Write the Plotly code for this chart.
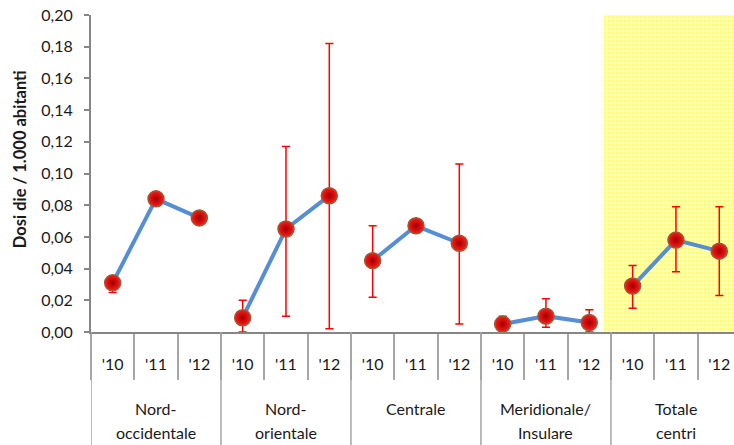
import plotly.graph_objects as go

# Consumption by area and year (doses per day / 1,000 inhabitants)
groups = ["Nord-occidentale", "Nord-orientale", "Centrale", "Meridionale/Insulare", "Totale centri"]
group_lines = [["Nord-", "occidentale"], ["Nord-", "orientale"], ["Centrale"],
               ["Meridionale/", "Insulare"], ["Totale", "centri"]]
years = ["'10", "'11", "'12"]

values = [0.031, 0.084, 0.072,
          0.009, 0.065, 0.086,
          0.045, 0.067, 0.056,
          0.005, 0.010, 0.006,
          0.029, 0.058, 0.051]
upper = [0.035, 0.086, 0.075,
         0.020, 0.117, 0.182,
         0.067, 0.069, 0.106,
         0.010, 0.021, 0.014,
         0.042, 0.079, 0.079]
lower = [0.025, 0.082, 0.069,
         0.000, 0.010, 0.002,
         0.022, 0.065, 0.005,
         0.000, 0.003, 0.000,
         0.015, 0.038, 0.023]

n_years = len(years)
x_pos = list(range(len(values)))
tick_text = years * len(groups)

# line broken between groups
line_x, line_y = [], []
for g in range(len(groups)):
    for k in range(n_years):
        i = g * n_years + k
        line_x.append(i)
        line_y.append(values[i])
    line_x.append(None)
    line_y.append(None)

fig = go.Figure()

# highlighted band behind the overall totals
fig.add_trace(go.Bar(
    x=[12.95], y=[0.2], width=[3.2],
    marker=dict(color="#FFFFD0", line=dict(width=0),
                pattern=dict(shape="+", fgcolor="#FFFF20", bgcolor="#FFFFD0",
                             fgopacity=1, size=4, solidity=0.3)),
    hoverinfo="skip", showlegend=False,
))

fig.add_trace(go.Scatter(
    x=line_x, y=line_y, mode="lines",
    line=dict(color="#558ED5", width=4),
    hoverinfo="skip", showlegend=False, connectgaps=False,
))

fig.add_trace(go.Scatter(
    x=x_pos, y=values, mode="markers",
    marker=dict(size=16, color="#FF1A1A",
                gradient=dict(type="radial", color="#A00000"),
                line=dict(color="#9C5A33", width=1.5)),
    error_y=dict(type="data", symmetric=False,
                 array=[u - v for u, v in zip(upper, values)],
                 arrayminus=[v - l for v, l in zip(values, lower)],
                 color="#FF0000", thickness=1.5, width=4),
    showlegend=False,
))

grid_col = "#A6A6A6"
axis_col = "#868686"
font_fam = "Lato"
txt_col = "#1A1A1A"

# group dividers reaching the bottom of the label area
for b in [-0.5, 2.5, 5.5, 8.5, 11.5, 14.5]:
    fig.add_shape(type="line", xref="x", yref="paper", x0=b, x1=b, y0=0, y1=-0.357,
                  line=dict(color=grid_col, width=1.5))

# group names under the years
for g, lines in enumerate(group_lines):
    cx = g * n_years + 1
    for j, txt in enumerate(lines):
        fig.add_annotation(x=cx, xref="x", y=-(409 - 332 + j * 23.5) / 317.3, yref="paper",
                           text=txt, showarrow=False, yanchor="middle",
                           font=dict(family=font_fam, size=16, color=txt_col))

# vertical axis title
fig.add_annotation(x=(20 - 91) / 643, xref="paper", y=(332 - 159) / 317.3, yref="paper",
                   text="<b>Dosi die / 1.000 abitanti</b>", textangle=-90,
                   showarrow=False, xanchor="center", yanchor="middle",
                   font=dict(family=font_fam, size=16.5, color=txt_col))

fig.update_layout(
    width=734, height=445,
    margin=dict(l=91, r=0, t=15, b=113),
    plot_bgcolor="white", paper_bgcolor="white",
    separators=", ",
    bargap=0,
    font=dict(family=font_fam, size=16, color=txt_col),
    xaxis=dict(
        range=[-0.5, 14.34], tickmode="array", tickvals=x_pos, ticktext=tick_text,
        ticks="outside", ticklen=17, tickcolor="rgba(0,0,0,0)",
        tickfont=dict(size=16, family=font_fam, color=txt_col),
        showline=True, linecolor=axis_col, linewidth=2,
        showgrid=False, zeroline=False,
        minor=dict(tickmode="array", tickvals=[i + 0.5 for i in range(-1, 15)],
                   ticks="outside", ticklen=46, tickcolor=grid_col, tickwidth=1.5),
    ),
    yaxis=dict(
        range=[0, 0.2], tickvals=[0.02 * i for i in range(11)], tickformat=".2f",
        ticks="outside", ticklen=5, tickcolor=axis_col, tickwidth=1.5,
        ticklabelstandoff=8,
        tickfont=dict(size=16, family=font_fam, color=txt_col),
        showline=True, linecolor=axis_col, linewidth=2,
        showgrid=False, zeroline=False,
    ),
)

fig.write_html("out.html")
